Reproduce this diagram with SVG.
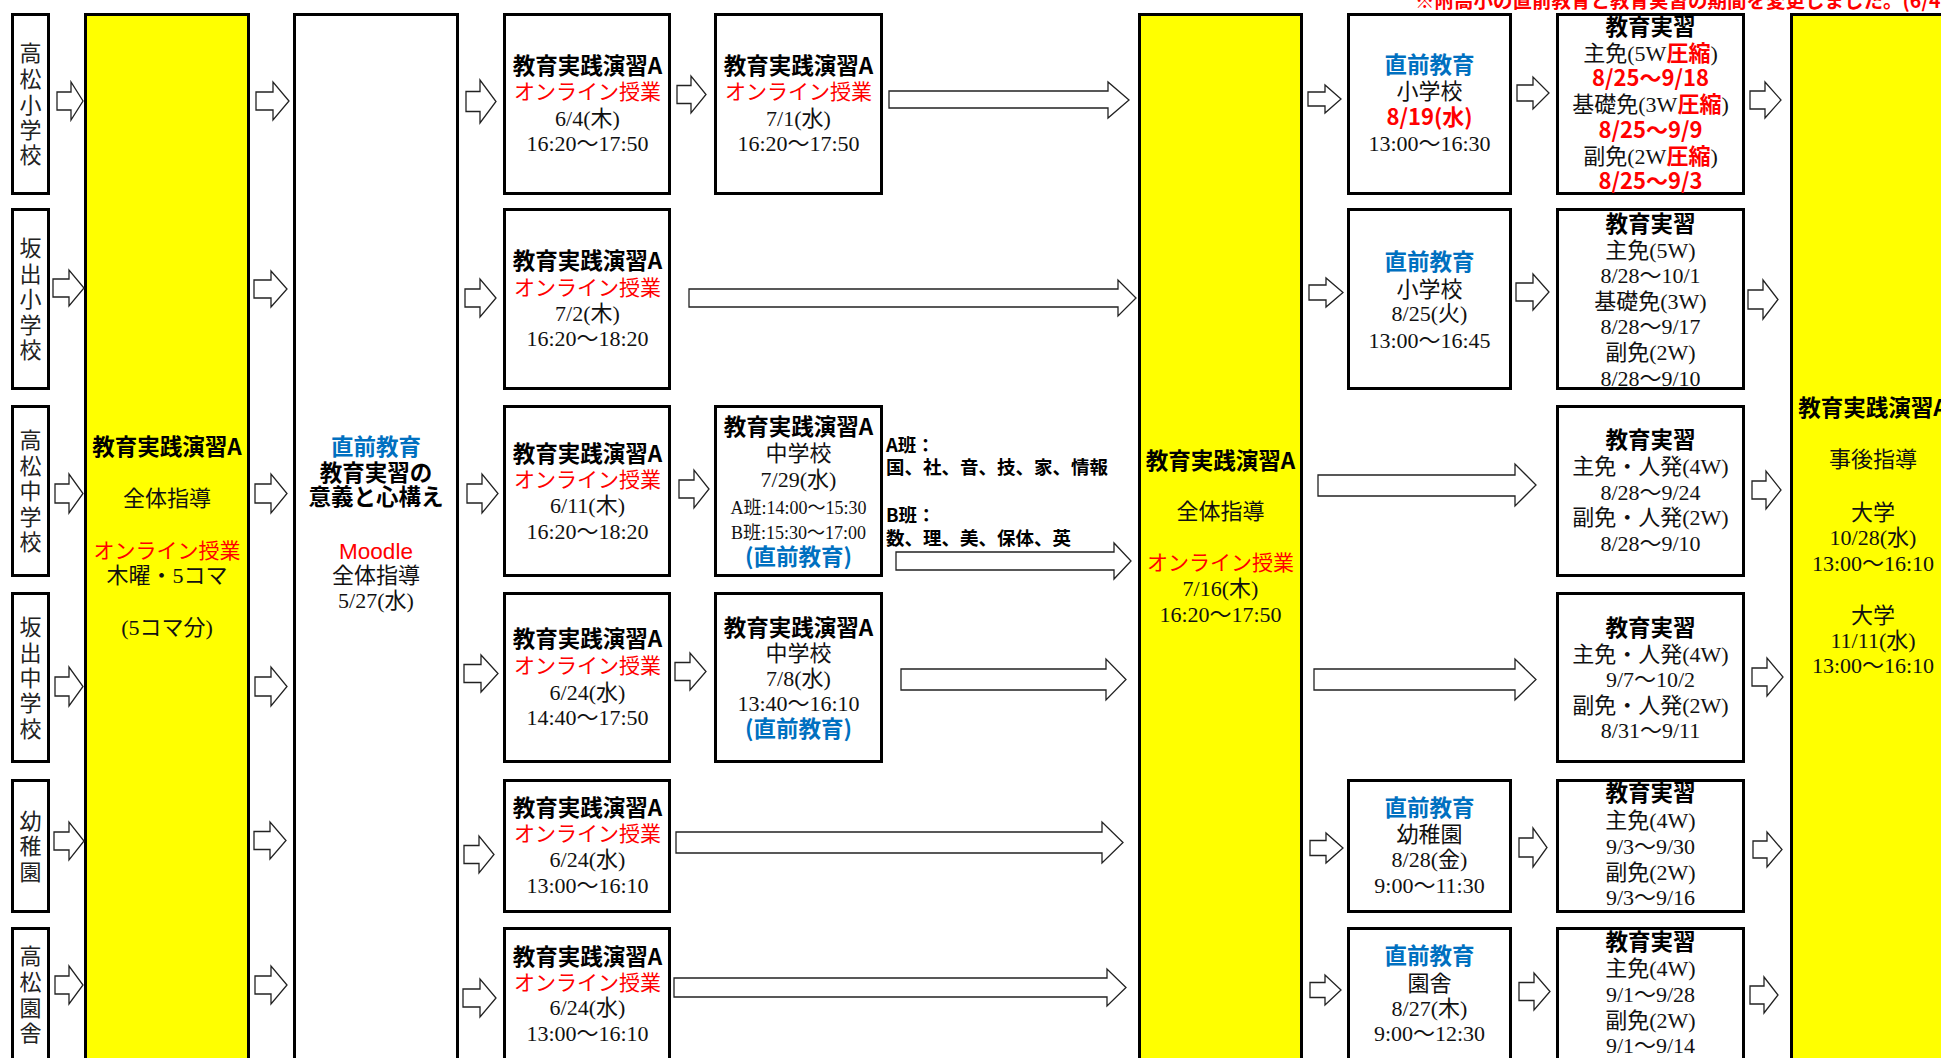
<svg xmlns="http://www.w3.org/2000/svg" width="1941" height="1058" viewBox="0 0 1941 1058">
<style>
.box{fill:#fff;stroke:#000;stroke-width:3}
.ybox{fill:#ffff00;stroke:#000;stroke-width:3}
.arr{fill:#fff;stroke:#222;stroke-width:1.3;stroke-linejoin:miter}
text{text-anchor:middle}
.b{font-family:"Noto Sans CJK JP",sans-serif;font-weight:bold;font-size:22.5px;fill:#000}
.r{font-family:"Liberation Serif","Noto Sans CJK JP",serif;font-size:22px;fill:#111}
.s{font-family:"Liberation Serif","Noto Sans CJK JP",serif;font-size:18px;fill:#111}
.on{font-family:"Noto Sans CJK JP",sans-serif;font-size:21px;fill:#ff0000}
.bl{font-family:"Noto Sans CJK JP",sans-serif;font-weight:bold;font-size:22.5px;fill:#0070c0}
.rb{font-family:"Noto Sans CJK JP",sans-serif;font-weight:bold;font-size:22px;fill:#ff0000}
.lab{font-family:"Liberation Serif","Noto Sans CJK JP",serif;font-size:22px;fill:#222}
.grp{font-family:"Noto Sans CJK JP",sans-serif;font-weight:bold;font-size:18.5px;fill:#000;text-anchor:start}
.note{font-family:"Noto Sans CJK JP",sans-serif;font-weight:bold;font-size:19.5px;fill:#ff0000;text-anchor:start}
.md{font-family:"Liberation Sans",sans-serif;font-size:22.5px;fill:#ff0000}
</style>
<rect width="1941" height="1058" fill="#fff"/>
<text class="note" x="1415" y="7.5">※附高小の直前教育と教育実習の期間を変更しました。(6/4</text>

<!-- left labels -->
<g id="label-takamatsu-sho">
<rect class="box" x="12.5" y="14.5" width="36" height="179"/>
<text class="lab"><tspan x="30.5" y="61">高</tspan><tspan x="30.5" y="87">松</tspan><tspan x="30.5" y="113">小</tspan><tspan x="30.5" y="138">学</tspan><tspan x="30.5" y="163">校</tspan></text>
</g>
<g id="label-sakaide-sho">
<rect class="box" x="12.5" y="209.5" width="36" height="179"/>
<text class="lab"><tspan x="30.5" y="256">坂</tspan><tspan x="30.5" y="281.5">出</tspan><tspan x="30.5" y="307">小</tspan><tspan x="30.5" y="332.5">学</tspan><tspan x="30.5" y="358">校</tspan></text>
</g>
<g id="label-takamatsu-chu">
<rect class="box" x="12.5" y="406.5" width="36" height="169"/>
<text class="lab"><tspan x="30.5" y="448">高</tspan><tspan x="30.5" y="473.5">松</tspan><tspan x="30.5" y="499">中</tspan><tspan x="30.5" y="524.5">学</tspan><tspan x="30.5" y="550">校</tspan></text>
</g>
<g id="label-sakaide-chu">
<rect class="box" x="12.5" y="593.5" width="36" height="168"/>
<text class="lab"><tspan x="30.5" y="635">坂</tspan><tspan x="30.5" y="661">出</tspan><tspan x="30.5" y="686">中</tspan><tspan x="30.5" y="711">学</tspan><tspan x="30.5" y="737">校</tspan></text>
</g>
<g id="label-yochien">
<rect class="box" x="12.5" y="780.5" width="36" height="131"/>
<text class="lab"><tspan x="30.5" y="829">幼</tspan><tspan x="30.5" y="854">稚</tspan><tspan x="30.5" y="880">園</tspan></text>
</g>
<g id="label-takamatsu-en">
<rect class="box" x="12.5" y="928.5" width="36" height="134"/>
<text class="lab"><tspan x="30.5" y="964">高</tspan><tspan x="30.5" y="990">松</tspan><tspan x="30.5" y="1016">園</tspan><tspan x="30.5" y="1041">舎</tspan></text>
</g>

<!-- left yellow -->
<g id="zentai-1">
<rect class="ybox" x="85.5" y="14.5" width="163" height="1060"/>
<text class="b" x="167" y="455">教育実践演習A</text>
<text class="r" x="167" y="506">全体指導</text>
<text class="on" x="167" y="558">オンライン授業</text>
<text class="r" x="167" y="583">木曜・5コマ</text>
<text class="r" x="167" y="635">(5コマ分)</text>
</g>

<!-- white big -->
<g id="chokuzen-moodle">
<rect class="box" x="294.5" y="14.5" width="163" height="1060"/>
<text class="bl" x="376" y="455">直前教育</text>
<text class="b" x="376" y="481">教育実習の</text>
<text class="b" x="376" y="505">意義と心構え</text>
<text class="md" x="376" y="559">Moodle</text>
<text class="r" x="376" y="583">全体指導</text>
<text class="r" x="376" y="608">5/27(水)</text>
</g>

<!-- column 3 -->
<g id="c3-r1">
<rect class="box" x="504.5" y="14.5" width="165" height="179"/>
<text class="b" x="587.5" y="73.5">教育実践演習A</text>
<text class="on" x="587.5" y="99">オンライン授業</text>
<text class="r" x="587.5" y="125.5">6/4(木)</text>
<text class="r" x="587.5" y="151">16:20～17:50</text>
</g>
<g id="c3-r2">
<rect class="box" x="504.5" y="209.5" width="165" height="179"/>
<text class="b" x="587.5" y="269">教育実践演習A</text>
<text class="on" x="587.5" y="295">オンライン授業</text>
<text class="r" x="587.5" y="320.5">7/2(木)</text>
<text class="r" x="587.5" y="346">16:20～18:20</text>
</g>
<g id="c3-r3">
<rect class="box" x="504.5" y="406.5" width="165" height="169"/>
<text class="b" x="587.5" y="462">教育実践演習A</text>
<text class="on" x="587.5" y="487">オンライン授業</text>
<text class="r" x="587.5" y="513">6/11(木)</text>
<text class="r" x="587.5" y="539">16:20～18:20</text>
</g>
<g id="c3-r4">
<rect class="box" x="504.5" y="593.5" width="165" height="168"/>
<text class="b" x="587.5" y="647">教育実践演習A</text>
<text class="on" x="587.5" y="673">オンライン授業</text>
<text class="r" x="587.5" y="700">6/24(水)</text>
<text class="r" x="587.5" y="725">14:40～17:50</text>
</g>
<g id="c3-r5">
<rect class="box" x="504.5" y="780.5" width="165" height="131"/>
<text class="b" x="587.5" y="816">教育実践演習A</text>
<text class="on" x="587.5" y="841">オンライン授業</text>
<text class="r" x="587.5" y="867">6/24(水)</text>
<text class="r" x="587.5" y="893">13:00～16:10</text>
</g>
<g id="c3-r6">
<rect class="box" x="504.5" y="928.5" width="165" height="134"/>
<text class="b" x="587.5" y="965">教育実践演習A</text>
<text class="on" x="587.5" y="990">オンライン授業</text>
<text class="r" x="587.5" y="1015">6/24(水)</text>
<text class="r" x="587.5" y="1041">13:00～16:10</text>
</g>

<!-- column 4 -->
<g id="c4-r1">
<rect class="box" x="715.5" y="14.5" width="166" height="179"/>
<text class="b" x="798.5" y="73.5">教育実践演習A</text>
<text class="on" x="798.5" y="99">オンライン授業</text>
<text class="r" x="798.5" y="125.5">7/1(水)</text>
<text class="r" x="798.5" y="151">16:20～17:50</text>
</g>
<g id="c4-r3">
<rect class="box" x="715.5" y="406.5" width="166" height="169"/>
<text class="b" x="798.5" y="435">教育実践演習A</text>
<text class="r" x="798.5" y="461">中学校</text>
<text class="r" x="798.5" y="487">7/29(水)</text>
<text class="s" x="798.5" y="513.5">A班:14:00～15:30</text>
<text class="s" x="798.5" y="538.5">B班:15:30～17:00</text>
<text class="bl" x="798.5" y="565">(直前教育)</text>
</g>
<g id="c4-r4">
<rect class="box" x="715.5" y="593.5" width="166" height="168"/>
<text class="b" x="798.5" y="636">教育実践演習A</text>
<text class="r" x="798.5" y="661">中学校</text>
<text class="r" x="798.5" y="686">7/8(水)</text>
<text class="r" x="798.5" y="711">13:40～16:10</text>
<text class="bl" x="798.5" y="737">(直前教育)</text>
</g>
<g id="han-note">
<text class="grp" x="886" y="452">A班：</text>
<text class="grp" x="886" y="474">国、社、音、技、家、情報</text>
<text class="grp" x="886" y="522">B班：</text>
<text class="grp" x="886" y="545">数、理、美、保体、英</text>
</g>

<!-- middle yellow -->
<g id="zentai-2">
<rect class="ybox" x="1139.5" y="14.5" width="162" height="1060"/>
<text class="b" x="1220.5" y="469">教育実践演習A</text>
<text class="r" x="1220.5" y="519">全体指導</text>
<text class="on" x="1220.5" y="570">オンライン授業</text>
<text class="r" x="1220.5" y="596">7/16(木)</text>
<text class="r" x="1220.5" y="622">16:20～17:50</text>
</g>

<!-- chokuzen column -->
<g id="ck-r1">
<rect class="box" x="1348.5" y="14.5" width="162" height="179"/>
<text class="bl" x="1429.5" y="73">直前教育</text>
<text class="r" x="1429.5" y="99">小学校</text>
<text class="rb" x="1429.5" y="125">8/19(水)</text>
<text class="r" x="1429.5" y="151">13:00～16:30</text>
</g>
<g id="ck-r2">
<rect class="box" x="1348.5" y="209.5" width="162" height="179"/>
<text class="bl" x="1429.5" y="270">直前教育</text>
<text class="r" x="1429.5" y="297">小学校</text>
<text class="r" x="1429.5" y="321">8/25(火)</text>
<text class="r" x="1429.5" y="348">13:00～16:45</text>
</g>
<g id="ck-r5">
<rect class="box" x="1348.5" y="780.5" width="162" height="131"/>
<text class="bl" x="1429.5" y="816">直前教育</text>
<text class="r" x="1429.5" y="842">幼稚園</text>
<text class="r" x="1429.5" y="867">8/28(金)</text>
<text class="r" x="1429.5" y="893">9:00～11:30</text>
</g>
<g id="ck-r6">
<rect class="box" x="1348.5" y="928.5" width="162" height="134"/>
<text class="bl" x="1429.5" y="964">直前教育</text>
<text class="r" x="1429.5" y="991">園舎</text>
<text class="r" x="1429.5" y="1016">8/27(木)</text>
<text class="r" x="1429.5" y="1041">9:00～12:30</text>
</g>

<!-- jisshu column -->
<g id="js-r1">
<rect class="box" x="1557.5" y="14.5" width="186" height="179"/>
<text class="b" x="1650.5" y="35">教育実習</text>
<text class="r" x="1650.5" y="60.7">主免(5W<tspan class="rb">圧縮</tspan>)</text>
<text class="rb" x="1650.5" y="86.4">8/25～9/18</text>
<text class="r" x="1650.5" y="112">基礎免(3W<tspan class="rb">圧縮</tspan>)</text>
<text class="rb" x="1650.5" y="137.8">8/25～9/9</text>
<text class="r" x="1650.5" y="163.5">副免(2W<tspan class="rb">圧縮</tspan>)</text>
<text class="rb" x="1650.5" y="189.2">8/25～9/3</text>
</g>
<g id="js-r2">
<rect class="box" x="1557.5" y="209.5" width="186" height="179"/>
<text class="b" x="1650.5" y="232">教育実習</text>
<text class="r" x="1650.5" y="258">主免(5W)</text>
<text class="r" x="1650.5" y="283">8/28～10/1</text>
<text class="r" x="1650.5" y="309">基礎免(3W)</text>
<text class="r" x="1650.5" y="334">8/28～9/17</text>
<text class="r" x="1650.5" y="360">副免(2W)</text>
<text class="r" x="1650.5" y="386">8/28～9/10</text>
</g>
<g id="js-r3">
<rect class="box" x="1557.5" y="406.5" width="186" height="169"/>
<text class="b" x="1650.5" y="448">教育実習</text>
<text class="r" x="1650.5" y="474">主免・人発(4W)</text>
<text class="r" x="1650.5" y="500">8/28～9/24</text>
<text class="r" x="1650.5" y="525">副免・人発(2W)</text>
<text class="r" x="1650.5" y="551">8/28～9/10</text>
</g>
<g id="js-r4">
<rect class="box" x="1557.5" y="593.5" width="186" height="168"/>
<text class="b" x="1650.5" y="636">教育実習</text>
<text class="r" x="1650.5" y="662">主免・人発(4W)</text>
<text class="r" x="1650.5" y="687">9/7～10/2</text>
<text class="r" x="1650.5" y="713">副免・人発(2W)</text>
<text class="r" x="1650.5" y="738">8/31～9/11</text>
</g>
<g id="js-r5">
<rect class="box" x="1557.5" y="780.5" width="186" height="131"/>
<text class="b" x="1650.5" y="801">教育実習</text>
<text class="r" x="1650.5" y="828">主免(4W)</text>
<text class="r" x="1650.5" y="854">9/3～9/30</text>
<text class="r" x="1650.5" y="880">副免(2W)</text>
<text class="r" x="1650.5" y="905">9/3～9/16</text>
</g>
<g id="js-r6">
<rect class="box" x="1557.5" y="928.5" width="186" height="134"/>
<text class="b" x="1650.5" y="950">教育実習</text>
<text class="r" x="1650.5" y="976">主免(4W)</text>
<text class="r" x="1650.5" y="1002">9/1～9/28</text>
<text class="r" x="1650.5" y="1028">副免(2W)</text>
<text class="r" x="1650.5" y="1053">9/1～9/14</text>
</g>

<!-- right yellow -->
<g id="jigo">
<rect class="ybox" x="1791.5" y="14.5" width="164" height="1060"/>
<text class="b" x="1873" y="416">教育実践演習A</text>
<text class="r" x="1873" y="467">事後指導</text>
<text class="r" x="1873" y="520">大学</text>
<text class="r" x="1873" y="545">10/28(水)</text>
<text class="r" x="1873" y="571">13:00～16:10</text>
<text class="r" x="1873" y="623">大学</text>
<text class="r" x="1873" y="648">11/11(水)</text>
<text class="r" x="1873" y="673">13:00～16:10</text>
</g>

<g id="connectors">
<path class="arr" d="M57 92 H71 V82 L83 101 L71 120 V110 H57 Z"/>
<path class="arr" d="M256 92 H273 V82 L289 101 L273 120 V110 H256 Z"/>
<path class="arr" d="M466 91.5 H480 V80 L496 101.5 L480 123 V111.5 H466 Z"/>
<path class="arr" d="M677 85.5 H691 V76 L706 94.5 L691 113 V103.5 H677 Z"/>
<path class="arr" d="M889 91 H1108 V82 L1129 100 L1108 118 V108 H889 Z"/>
<path class="arr" d="M1308 92 H1325 V85 L1341 99 L1325 113 V106 H1308 Z"/>
<path class="arr" d="M1517 85 H1533 V77 L1549 93 L1533 109 V101 H1517 Z"/>
<path class="arr" d="M1750 91 H1765 V82 L1781 100 L1765 118 V109 H1750 Z"/>

<path class="arr" d="M53 279 H69 V270 L84 288 L69 306 V297 H53 Z"/>
<path class="arr" d="M254 280 H271 V271 L287 289 L271 307 V298 H254 Z"/>
<path class="arr" d="M465 289 H480 V279 L496 298 L480 317 V307 H465 Z"/>
<path class="arr" d="M689 289 H1118 V280 L1136 298 L1118 316 V307 H689 Z"/>
<path class="arr" d="M1309 285 H1326 V278 L1343 292.5 L1326 307 V300 H1309 Z"/>
<path class="arr" d="M1516 283 H1533 V274 L1549 292 L1533 310 V301 H1516 Z"/>
<path class="arr" d="M1748 290 H1763 V280 L1778 299.5 L1763 319 V309 H1748 Z"/>

<path class="arr" d="M55 484 H69 V474 L83 493.5 L69 513 V503 H55 Z"/>
<path class="arr" d="M255 484 H271 V474 L287 493.5 L271 513 V503 H255 Z"/>
<path class="arr" d="M467 484 H482 V474 L498 493.5 L482 513 V503 H467 Z"/>
<path class="arr" d="M679 480 H694 V470 L709 489 L694 508 V498 H679 Z"/>
<path class="arr" d="M896 552 H1114 V543 L1131 561 L1114 579 V570 H896 Z"/>
<path class="arr" d="M1318 475 H1515 V464 L1536 485 L1515 506 V496 H1318 Z"/>
<path class="arr" d="M1752 481 H1766 V471 L1781 490 L1766 509 V499 H1752 Z"/>

<path class="arr" d="M55 677 H69 V667 L83 686.5 L69 706 V696 H55 Z"/>
<path class="arr" d="M255 677 H271 V667 L287 686.5 L271 706 V696 H255 Z"/>
<path class="arr" d="M464 664.5 H481 V655 L498 673.5 L481 692 V682.5 H464 Z"/>
<path class="arr" d="M675 662.5 H690 V653 L706 671.5 L690 690 V680.5 H675 Z"/>
<path class="arr" d="M901 669 H1106 V659 L1126 679.5 L1106 700 V690 H901 Z"/>
<path class="arr" d="M1314 669 H1515 V659 L1536 679.5 L1515 700 V690 H1314 Z"/>
<path class="arr" d="M1752 668 H1767 V658 L1783 677 L1767 696 V686 H1752 Z"/>

<path class="arr" d="M54 832 H69 V822 L84 841 L69 860 V850 H54 Z"/>
<path class="arr" d="M254 831.5 H270 V822 L286 840.5 L270 859 V849.5 H254 Z"/>
<path class="arr" d="M464 845.5 H479 V836 L494 854.5 L479 873 V863.5 H464 Z"/>
<path class="arr" d="M676 832 H1102 V822 L1123 842.5 L1102 863 V853 H676 Z"/>
<path class="arr" d="M1310 840.5 H1326 V833 L1343 848 L1326 863 V855.5 H1310 Z"/>
<path class="arr" d="M1519 838 H1533 V828 L1547 847.5 L1533 867 V857 H1519 Z"/>
<path class="arr" d="M1753 841 H1767 V832 L1782 849.5 L1767 867 V858 H1753 Z"/>

<path class="arr" d="M55 976 H69 V966 L83 985 L69 1004 V994 H55 Z"/>
<path class="arr" d="M255 976 H271 V966 L287 985 L271 1004 V994 H255 Z"/>
<path class="arr" d="M463 989 H480 V979 L496 998 L480 1017 V1007 H463 Z"/>
<path class="arr" d="M674 978 H1107 V969 L1126 987.5 L1107 1006 V997 H674 Z"/>
<path class="arr" d="M1310 982.5 H1325 V975 L1341 990 L1325 1005 V997.5 H1310 Z"/>
<path class="arr" d="M1519 982.5 H1534 V973 L1550 991.5 L1534 1010 V1000.5 H1519 Z"/>
<path class="arr" d="M1750 986 H1764 V977 L1778 995 L1764 1013 V1004 H1750 Z"/>
</g>
</svg>
